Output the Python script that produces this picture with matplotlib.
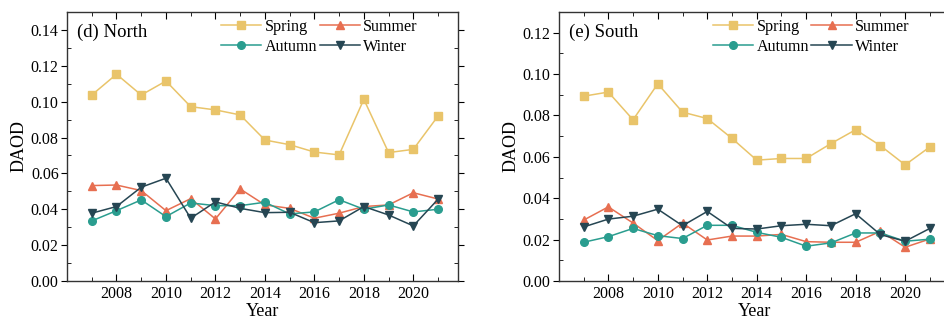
import matplotlib
matplotlib.use("Agg")
import matplotlib.pyplot as plt
from matplotlib.ticker import MultipleLocator, FormatStrFormatter

plt.rcParams['font.family'] = ['Liberation Serif', 'DejaVu Serif']

years = list(range(2007, 2022))

# North
north_spring = [0.1037, 0.1153, 0.1037, 0.1115, 0.0972, 0.0954, 0.0926, 0.0786,
                0.0760, 0.0719, 0.0703, 0.1013, 0.0716, 0.0734, 0.0920]
north_summer = [0.0532, 0.0535, 0.0504, 0.0392, 0.0459, 0.0346, 0.0513, 0.0424,
                0.0405, 0.0350, 0.0378, 0.0415, 0.0424, 0.0492, 0.0457]
north_autumn = [0.0335, 0.0392, 0.0452, 0.0359, 0.0435, 0.0420, 0.0420, 0.0439,
                0.0374, 0.0385, 0.0453, 0.0400, 0.0424, 0.0385, 0.0400]
north_winter = [0.0378, 0.0415, 0.0523, 0.0573, 0.0350, 0.0441, 0.0405, 0.0381,
                0.0383, 0.0325, 0.0335, 0.0415, 0.0368, 0.0307, 0.0456]

# South
south_spring = [0.0893, 0.0913, 0.0779, 0.0953, 0.0816, 0.0785, 0.0689, 0.0584,
                0.0592, 0.0592, 0.0664, 0.0731, 0.0654, 0.0561, 0.0648]
south_summer = [0.0294, 0.0358, 0.0280, 0.0195, 0.0280, 0.0198, 0.0217, 0.0217,
                0.0225, 0.0190, 0.0187, 0.0187, 0.0240, 0.0163, 0.0203]
south_autumn = [0.0187, 0.0214, 0.0254, 0.0219, 0.0205, 0.0269, 0.0269, 0.0235,
                0.0211, 0.0168, 0.0184, 0.0232, 0.0232, 0.0192, 0.0202]
south_winter = [0.0261, 0.0299, 0.0313, 0.0347, 0.0267, 0.0336, 0.0254, 0.0251,
                0.0267, 0.0274, 0.0267, 0.0325, 0.0224, 0.0192, 0.0254]

seasons = ['Spring', 'Summer', 'Autumn', 'Winter']
colors = {'Spring': '#E9C46A', 'Summer': '#E76F51', 'Autumn': '#2A9D8F', 'Winter': '#264653'}
markers = {'Spring': 's', 'Summer': '^', 'Autumn': 'o', 'Winter': 'v'}

fig = plt.figure(figsize=(9.44, 3.2), dpi=100)
ax1 = fig.add_axes([0.071, 0.122, 0.414, 0.8405])
ax2 = fig.add_axes([0.592, 0.122, 0.414, 0.8405])

panels = [
    (ax1, '(d) North', [north_spring, north_summer, north_autumn, north_winter], 0.15),
    (ax2, '(e) South', [south_spring, south_summer, south_autumn, south_winter], 0.13),
]

for ax, title, series, ymax in panels:
    lines = {}
    for name, vals in zip(seasons, series):
        ln, = ax.plot(years, vals, color=colors[name], marker=markers[name],
                      markersize=5.5, linewidth=1.1, label=name)
        lines[name] = ln
    ax.set_xlim(2006, 2021.8)
    ax.set_ylim(0, ymax)
    ax.set_xticks(range(2008, 2021, 2))
    ax.xaxis.set_minor_locator(MultipleLocator(1))
    ax.yaxis.set_major_locator(MultipleLocator(0.02))
    ax.yaxis.set_minor_locator(MultipleLocator(0.01))
    ax.yaxis.set_major_formatter(FormatStrFormatter('%.2f'))
    ax.tick_params(axis='x', which='both', direction='in', top=True, labelsize=11.5)
    ax.tick_params(axis='x', which='major', length=5)
    ax.tick_params(axis='x', which='minor', length=3)
    ax.tick_params(axis='y', which='major', direction='out', right=True, length=4,
                   pad=2, labelsize=11.5)
    ax.tick_params(axis='y', which='minor', direction='in', right=True, length=3)
    for sp in ax.spines.values():
        sp.set_linewidth(1.0)
        sp.set_color('#333333')
    ax.set_xlabel('Year', fontsize=13, labelpad=1)
    ax.set_ylabel('DAOD', fontsize=13)
    ax.yaxis.set_label_coords(-0.1, 0.5)
    ax.text(0.025, 0.955, title, transform=ax.transAxes, fontsize=13.5, va='top', ha='left')
    order = ['Spring', 'Autumn', 'Summer', 'Winter']
    ax.legend([lines[n] for n in order], order, ncol=2, frameon=False, fontsize=11.6,
              loc='upper right', bbox_to_anchor=(0.897, 0.974), handlelength=2.5,
              columnspacing=0.15, handletextpad=0.2, labelspacing=0.25,
              borderaxespad=0, borderpad=0)

fig.savefig('out.png', dpi=100)
